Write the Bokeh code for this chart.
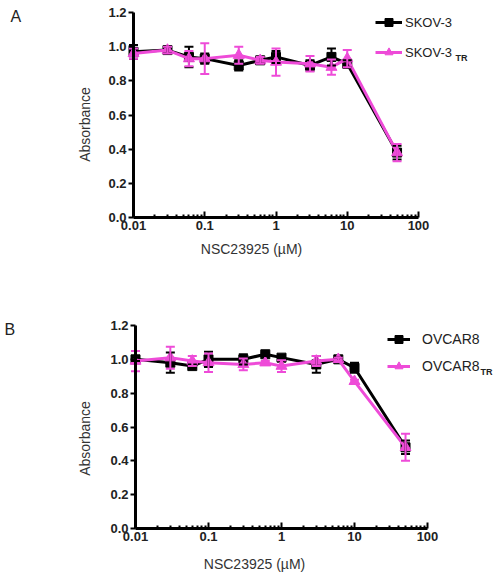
from bokeh.plotting import figure
from bokeh.layouts import column
from bokeh.models import (ColumnDataSource, FixedTicker, Whisker, TeeHead, Legend,
                          LegendItem, Label)
from bokeh.embed import file_html
from bokeh.resources import INLINE
import math

# ---------------- data ----------------
conc = [0.01, 0.03, 0.06, 0.1, 0.3, 0.6, 1, 3, 6, 10, 50]

skov3 = [0.97, 0.98, 0.94, 0.93, 0.89, 0.92, 0.94, 0.89, 0.94, 0.90, 0.38]
skov3_err = [0.04, 0.02, 0.06, 0.03, 0.03, 0.02, 0.035, 0.03, 0.05, 0.02, 0.04]
skov3tr = [0.96, 0.98, 0.93, 0.93, 0.95, 0.92, 0.91, 0.90, 0.88, 0.93, 0.38]
skov3tr_err = [0.03, 0.02, 0.045, 0.09, 0.05, 0.02, 0.08, 0.045, 0.045, 0.05, 0.05]

ovcar8 = [1.00, 0.98, 0.96, 1.00, 1.00, 1.03, 1.01, 0.97, 1.00, 0.95, 0.48]
ovcar8_err = [0.01, 0.06, 0.01, 0.045, 0.03, 0.01, 0.01, 0.05, 0.01, 0.03, 0.04]
ovcar8tr = [0.99, 1.01, 0.99, 0.98, 0.97, 0.98, 0.96, 0.99, 1.00, 0.87, 0.48]
ovcar8tr_err = [0.06, 0.065, 0.03, 0.055, 0.035, 0.01, 0.035, 0.03, 0.01, 0.01, 0.08]

x_major = [0.01, 0.1, 1, 10, 100]
x_labels = ["0.01", "0.1", "1", "10", "100"]
y_major = [0.0, 0.2, 0.4, 0.6, 0.8, 1.0, 1.2]
y_labels = ["0.0", "0.2", "0.4", "0.6", "0.8", "1.0", "1.2"]

PINK = "#EE4BD8"
BLACK = "#000000"
TXT = "#222222"
FONT = "Liberation Sans"
FIG_W = 496
PAGE_LEFT = 0


def make_panel(fig_top, height, axes_box, black_vals, black_err, pink_vals, pink_err,
               names, letter, letter_px, leg_box, leg_gw, leg_standoff, leg_spacing,
               leg_font, tr_px, ytitle_px, xtitle_px):
    # axes_box: page-pixel box (left, right, top, bottom) spanned by the axes
    al, ar, at, ab = axes_box
    ppd = (ar - al) / 4.0          # pixels per decade
    ppu = (ab - at) / 1.2          # pixels per absorbance unit
    fig_bottom = fig_top + height

    def to_data(xp, yp):
        return 10 ** (-2 + (xp - al) / ppd), (ab - yp) / ppu

    x0, y0 = to_data(PAGE_LEFT, fig_bottom)
    x1, y1 = to_data(PAGE_LEFT + FIG_W, fig_top)

    p = figure(width=FIG_W, height=height, x_axis_type="log",
               x_range=(x0, x1), y_range=(y0, y1),
               output_backend="svg", toolbar_location=None, min_border=0)
    p.title.visible = False
    p.outline_line_color = None
    p.grid.visible = False

    minor = [d * k for d in [0.01, 0.1, 1, 10] for k in range(2, 10)]
    p.xaxis.ticker = FixedTicker(ticks=x_major, minor_ticks=minor)
    p.xaxis.major_label_overrides = {v: s for v, s in zip(x_major, x_labels)}
    p.yaxis.ticker = FixedTicker(ticks=y_major)
    p.yaxis.major_label_overrides = {v: s for v, s in zip(y_major, y_labels)}
    p.xaxis.bounds = (x_major[0], x_major[-1])
    p.yaxis.bounds = (y_major[0], y_major[-1])
    p.xaxis.fixed_location = y_major[0]
    p.yaxis.fixed_location = x_major[0]

    for ax in (p.xaxis, p.yaxis):
        ax.axis_line_width = 3
        ax.axis_line_color = BLACK
        ax.major_tick_line_color = BLACK
        ax.major_tick_line_width = 2
        ax.minor_tick_line_color = BLACK
        ax.minor_tick_line_width = 2
        ax.major_label_text_font = FONT
        ax.major_label_text_font_style = "bold"
        ax.major_label_text_font_size = "13px"
        ax.major_label_text_color = TXT
    p.xaxis.major_tick_in = 6
    p.xaxis.major_tick_out = 0
    p.xaxis.minor_tick_in = 3
    p.xaxis.minor_tick_out = 0
    p.xaxis.major_label_standoff = 3
    p.yaxis.major_tick_in = 0
    p.yaxis.major_tick_out = 5
    p.yaxis.minor_tick_in = 0
    p.yaxis.minor_tick_out = 0
    p.yaxis.major_label_standoff = 2

    renderers = []
    for vals, errs, color, marker, size in (
            (black_vals, black_err, BLACK, "square", 9),
            (pink_vals, pink_err, PINK, "triangle", 11)):
        src = ColumnDataSource(dict(
            x=conc, y=vals,
            lower=[v - e for v, e in zip(vals, errs)],
            upper=[v + e for v, e in zip(vals, errs)]))
        w = Whisker(source=src, base="x", lower="lower", upper="upper",
                    dimension="height", line_color=color, line_width=2,
                    level="glyph",
                    upper_head=TeeHead(size=9, line_color=color, line_width=2),
                    lower_head=TeeHead(size=9, line_color=color, line_width=2))
        p.add_layout(w)
        ln = p.line("x", "y", source=src, line_color=color, line_width=3)
        sc = p.scatter("x", "y", source=src, marker=marker, size=size,
                       fill_color=color, line_color=color)
        renderers.append((ln, sc))

    leg_left, leg_bottom = leg_box
    legend = Legend(items=[
        LegendItem(label=names[0], renderers=list(renderers[0])),
        LegendItem(label=names[1], renderers=list(renderers[1])),
    ], location=(leg_left - PAGE_LEFT, fig_bottom - leg_bottom), orientation="vertical")
    legend.border_line_alpha = 0
    legend.background_fill_alpha = 0
    legend.padding = 0
    legend.margin = 0
    legend.glyph_width = leg_gw
    legend.glyph_height = 20
    legend.label_height = 20
    legend.label_standoff = leg_standoff
    legend.spacing = leg_spacing
    legend.label_text_font = FONT
    legend.label_text_font_size = leg_font
    legend.label_text_color = TXT
    p.add_layout(legend, "center")

    def label(text, px, size="14px", align="left", baseline="middle",
              angle=0.0, style="normal", color=TXT):
        xd, yd = to_data(*px)
        p.add_layout(Label(x=xd, y=yd, text=text, text_font=FONT,
                           text_font_size=size, text_font_style=style,
                           text_color=color, text_align=align,
                           text_baseline=baseline, angle=angle))

    label("TR", tr_px, size="9px", style="bold")
    label(letter, letter_px, size="16px", baseline="top")
    label("Absorbance", ytitle_px, align="center", angle=math.pi / 2,
          color="#333333")
    label("NSC23925 (\u00b5M)", xtitle_px, align="center", color="#333333")
    return p


pA = make_panel(0, 280, (133, 418, 12, 217),
                skov3, skov3_err, skov3tr, skov3tr_err,
                ("SKOV-3", "SKOV-3"), "A", (10, 7), (375, 62), 27, 3, 10, "13px",
                (455, 57), (84, 124), (251, 248))
pB = make_panel(280, 296, (135, 427, 325, 528),
                ovcar8, ovcar8_err, ovcar8tr, ovcar8tr_err,
                ("OVCAR8", "OVCAR8"), "B", (4, 320), (387, 376), 23, 12, 7, "14px",
                (480, 371), (84, 438), (254, 563))

layout = column(pA, pB)
open("out.html", "w").write(file_html(layout, INLINE))
